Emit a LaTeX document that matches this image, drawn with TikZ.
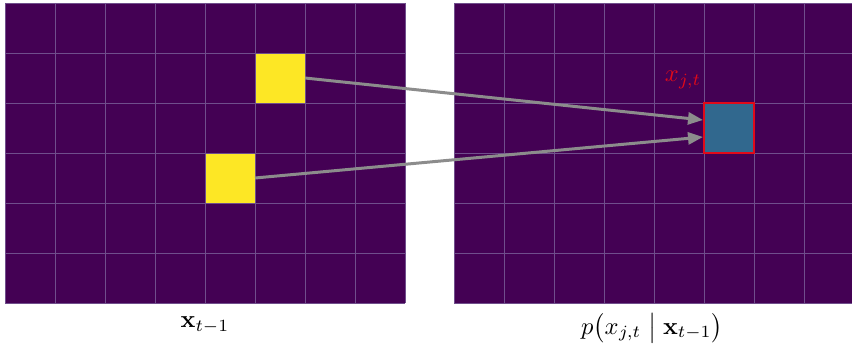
\documentclass[tikz,border=0pt]{standalone}
\usetikzlibrary{arrows.meta,calc}
\definecolor{vpurple}{HTML}{440154}
\definecolor{vyellow}{HTML}{FDE725}
\definecolor{vblue}{HTML}{31688E}
\definecolor{gridc}{RGB}{112,78,140}
\definecolor{arrowc}{RGB}{140,140,140}
\definecolor{redc}{RGB}{225,10,25}
\begin{document}
\begin{tikzpicture}[x=1pt,y=-1pt,
  cell/.style={minimum size=50pt,inner sep=0pt,outer sep=0pt,draw=gridc,line width=0.8pt},
  gridline/.style={draw=gridc,line width=0.8pt},
  conn/.style={draw=arrowc,line width=3pt,-{Triangle[length=15pt,width=12pt]}},
  lbl/.style={inner sep=0pt,scale=2.45}]
\useasboundingbox (0,0) rectangle (852,350);
\begin{scope}
\clip (0,0) rectangle (852,350);
% left grid
\fill[vpurple] (5,3) rectangle (405,303);
\foreach \i in {0,...,8} \draw[gridline] (5+50*\i,3) -- (5+50*\i,303);
\foreach \j in {0,...,6} \draw[gridline] (5,3+50*\j) -- (405,3+50*\j);
% right grid
\fill[vpurple] (454,3) rectangle (854,303);
\foreach \i in {0,...,8} \draw[gridline] (454+50*\i,3) -- (454+50*\i,303);
\foreach \j in {0,...,6} \draw[gridline] (454,3+50*\j) -- (854,3+50*\j);
\end{scope}
% highlighted cells
\node[cell,fill=vyellow] (ya) at (280,78) {};
\node[cell,fill=vyellow] (yb) at (230,178) {};
\node[cell,fill=vblue,draw=redc,line width=2pt] (tgt) at (729,128) {};
\coordinate (ea) at ($(tgt.west)+(-1,-8)$);
\coordinate (eb) at ($(tgt.west)+(-1,9)$);
\draw[conn] (ya.east) -- (ea);
\draw[conn] (yb.east) -- (eb);
% labels
\node[lbl,text=redc] (xl) at (683,80) {$x_{j,t}$};
\node[lbl] (l1) at (205,325) {$\mathbf{x}_{t-1}$};
\node[lbl] (l2) at (652,328) {$p\bigl(x_{j,t}\bigm|\mathbf{x}_{t-1}\bigr)$};
\end{tikzpicture}
\end{document}
